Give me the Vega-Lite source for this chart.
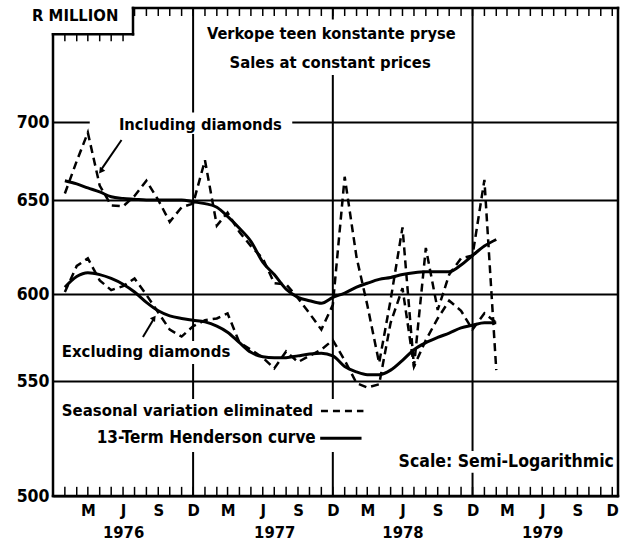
{
  "$schema": "https://vega.github.io/schema/vega-lite/v6.json",
  "width": 565,
  "height": 488,
  "autosize": {"type": "none"},
  "padding": {"left": 53, "top": 8, "right": 6, "bottom": 48},
  "background": "white",
  "config": {
    "font": "DejaVu Sans Condensed",
    "view": {"stroke": null},
    "text": {"font": "DejaVu Sans Condensed", "fontWeight": "bold", "color": "black"}
  },
  "datasets": {
    "series": [
      {"d":"1976-01-01","inc_sa":654,"inc_tr":662,"exc_sa":601,"exc_tr":603.5},
      {"d":"1976-02-01","inc_sa":674.5,"inc_tr":660,"exc_sa":614.5,"exc_tr":609},
      {"d":"1976-03-01","inc_sa":693,"inc_tr":657.5,"exc_sa":618.5,"exc_tr":611},
      {"d":"1976-04-01","inc_sa":659,"inc_tr":655,"exc_sa":607,"exc_tr":610},
      {"d":"1976-05-01","inc_sa":647,"inc_tr":652,"exc_sa":602,"exc_tr":608},
      {"d":"1976-06-01","inc_sa":646.5,"inc_tr":651,"exc_sa":604,"exc_tr":605},
      {"d":"1976-07-01","inc_sa":652.5,"inc_tr":650.5,"exc_sa":608,"exc_tr":601},
      {"d":"1976-08-01","inc_sa":662,"inc_tr":650,"exc_sa":599.5,"exc_tr":595},
      {"d":"1976-09-01","inc_sa":650,"inc_tr":650,"exc_sa":589,"exc_tr":590},
      {"d":"1976-10-01","inc_sa":638,"inc_tr":650,"exc_sa":579,"exc_tr":587},
      {"d":"1976-11-01","inc_sa":646,"inc_tr":650,"exc_sa":575,"exc_tr":585.5},
      {"d":"1976-12-01","inc_sa":648,"inc_tr":649,"exc_sa":581,"exc_tr":584.5},
      {"d":"1977-01-01","inc_sa":675,"inc_tr":648,"exc_sa":584.5,"exc_tr":583.5},
      {"d":"1977-02-01","inc_sa":636,"inc_tr":646,"exc_sa":585.5,"exc_tr":581},
      {"d":"1977-03-01","inc_sa":643,"inc_tr":641,"exc_sa":588.5,"exc_tr":577.5},
      {"d":"1977-04-01","inc_sa":632.5,"inc_tr":634.5,"exc_sa":571.5,"exc_tr":571.5},
      {"d":"1977-05-01","inc_sa":625,"inc_tr":627.5,"exc_sa":567.5,"exc_tr":566},
      {"d":"1977-06-01","inc_sa":618.5,"inc_tr":616.5,"exc_sa":563,"exc_tr":563.5},
      {"d":"1977-07-01","inc_sa":605.5,"inc_tr":610,"exc_sa":557,"exc_tr":563},
      {"d":"1977-08-01","inc_sa":605,"inc_tr":602.5,"exc_sa":566.5,"exc_tr":563},
      {"d":"1977-09-01","inc_sa":597.5,"inc_tr":598,"exc_sa":560.5,"exc_tr":564},
      {"d":"1977-10-01","inc_sa":588.5,"inc_tr":596,"exc_sa":564,"exc_tr":565},
      {"d":"1977-11-01","inc_sa":579,"inc_tr":594.5,"exc_sa":567.5,"exc_tr":565.5},
      {"d":"1977-12-01","inc_sa":593.5,"inc_tr":598,"exc_sa":573,"exc_tr":564},
      {"d":"1978-01-01","inc_sa":664.5,"inc_tr":600.5,"exc_sa":561.5,"exc_tr":558},
      {"d":"1978-02-01","inc_sa":619,"inc_tr":603.5,"exc_sa":549,"exc_tr":555},
      {"d":"1978-03-01","inc_sa":593.5,"inc_tr":605.5,"exc_sa":547,"exc_tr":553.5},
      {"d":"1978-04-01","inc_sa":560,"inc_tr":607.5,"exc_sa":548.5,"exc_tr":553.5},
      {"d":"1978-05-01","inc_sa":596.5,"inc_tr":608.5,"exc_sa":583,"exc_tr":556},
      {"d":"1978-06-01","inc_sa":635,"inc_tr":610,"exc_sa":603,"exc_tr":561.5},
      {"d":"1978-07-01","inc_sa":558,"inc_tr":611,"exc_sa":558,"exc_tr":567.5},
      {"d":"1978-08-01","inc_sa":624,"inc_tr":611.5,"exc_sa":573,"exc_tr":571.5},
      {"d":"1978-09-01","inc_sa":590.5,"inc_tr":611.5,"exc_sa":585.5,"exc_tr":574.5},
      {"d":"1978-10-01","inc_sa":610,"inc_tr":611.5,"exc_sa":596,"exc_tr":577},
      {"d":"1978-11-01","inc_sa":618.5,"inc_tr":615,"exc_sa":590,"exc_tr":580},
      {"d":"1978-12-01","inc_sa":620,"inc_tr":620,"exc_sa":579,"exc_tr":581.5},
      {"d":"1979-01-01","inc_sa":662.5,"inc_tr":625,"exc_sa":588.5,"exc_tr":583},
      {"d":"1979-02-01","inc_sa":556,"inc_tr":628.5,"exc_sa":583,"exc_tr":583}
    ],
    "months": [
      {"m":"1976-01-01"},{"m":"1976-02-01"},{"m":"1976-03-01"},{"m":"1976-04-01"},{"m":"1976-05-01"},{"m":"1976-06-01"},
      {"m":"1976-07-01"},{"m":"1976-08-01"},{"m":"1976-09-01"},{"m":"1976-10-01"},{"m":"1976-11-01"},{"m":"1976-12-01"},
      {"m":"1977-01-01"},{"m":"1977-02-01"},{"m":"1977-03-01"},{"m":"1977-04-01"},{"m":"1977-05-01"},{"m":"1977-06-01"},
      {"m":"1977-07-01"},{"m":"1977-08-01"},{"m":"1977-09-01"},{"m":"1977-10-01"},{"m":"1977-11-01"},{"m":"1977-12-01"},
      {"m":"1978-01-01"},{"m":"1978-02-01"},{"m":"1978-03-01"},{"m":"1978-04-01"},{"m":"1978-05-01"},{"m":"1978-06-01"},
      {"m":"1978-07-01"},{"m":"1978-08-01"},{"m":"1978-09-01"},{"m":"1978-10-01"},{"m":"1978-11-01"},{"m":"1978-12-01"},
      {"m":"1979-01-01"},{"m":"1979-02-01"},{"m":"1979-03-01"},{"m":"1979-04-01"},{"m":"1979-05-01"},{"m":"1979-06-01"},
      {"m":"1979-07-01"},{"m":"1979-08-01"},{"m":"1979-09-01"},{"m":"1979-10-01"},{"m":"1979-11-01"},{"m":"1979-12-01"}
    ]
  },
  "layer": [
    {
      "data": {"name": "months"},
      "transform": [{"filter": "utcmonth(datum.m)==11 && utcyear(datum.m)<1979"}],
      "mark": {"type": "rule", "color": "black", "strokeWidth": 2},
      "encoding": {"x": {"field": "m", "type": "temporal", "title": null}}
    },
    {
      "data": {"values": [{}]},
      "mark": {"type": "rect", "color": "white"},
      "encoding": {
        "x": {"datum": {"year":1976,"month":12,"date":20,"utc":true}, "type": "temporal"},
        "x2": {"datum": {"year":1978,"month":11,"date":4,"utc":true}},
        "y": {"datum": 730, "type": "quantitative"},
        "y2": {"datum": 767}
      }
    },
    {
      "data": {"values": [{}]},
      "mark": {"type": "rect", "color": "white"},
      "encoding": {
        "x": {"datum": {"year":1976,"month":3,"date":6,"utc":true}, "type": "temporal"},
        "x2": {"datum": {"year":1977,"month":8,"date":17,"utc":true}},
        "y": {"datum": 692, "type": "quantitative"},
        "y2": {"datum": 706}
      }
    },
    {
      "data": {"values": [{}]},
      "mark": {"type": "rect", "color": "white"},
      "encoding": {
        "x": {"datum": {"year":1975,"month":12,"date":14,"utc":true}, "type": "temporal"},
        "x2": {"datum": {"year":1977,"month":3,"date":22,"utc":true}},
        "y": {"datum": 559.4, "type": "quantitative"},
        "y2": {"datum": 572.4}
      }
    },
    {
      "data": {"values": [{}]},
      "mark": {"type": "rect", "color": "white"},
      "encoding": {
        "x": {"datum": {"year":1975,"month":12,"date":14,"utc":true}, "type": "temporal"},
        "x2": {"datum": {"year":1978,"month":3,"date":2,"utc":true}},
        "y": {"datum": 518.6, "type": "quantitative"},
        "y2": {"datum": 541.9}
      }
    },
    {
      "data": {"values": [{}]},
      "mark": {"type": "rect", "color": "white"},
      "encoding": {
        "x": {"datum": {"year":1978,"month":5,"date":9,"utc":true}, "type": "temporal"},
        "x2": {"datum": {"year":1979,"month":12,"date":13,"utc":true}},
        "y": {"datum": 509.7, "type": "quantitative"},
        "y2": {"datum": 519}
      }
    },
    {
      "data": {"name": "series"},
      "transform": [{"fold": ["inc_sa", "exc_sa"], "as": ["series", "value"]}],
      "mark": {"type": "line", "color": "black", "strokeWidth": 2.5, "strokeDash": [8, 5]},
      "encoding": {
        "x": {
          "field": "d", "type": "temporal",
          "scale": {"type": "utc", "domain": [{"year":1975,"month":12,"date":1,"utc":true}, {"year":1979,"month":12,"date":16,"utc":true}], "nice": false},
          "axis": {
            "title": null,
            "tickCount": {"interval": "month", "step": 1},
            "ticks": false, "domain": false, "grid": false,
            "labelExpr": "[utcyear(datum.value)<1976?'':(utcmonth(datum.value)==2?'M':utcmonth(datum.value)==5?'J':utcmonth(datum.value)==8?'S':utcmonth(datum.value)==11?'D':''), ((utcmonth(datum.value)==5&&utcyear(datum.value)!=1977)||(utcmonth(datum.value)==6&&utcyear(datum.value)==1977))?''+utcyear(datum.value):'']",
            "labelFont": "DejaVu Sans Condensed", "labelFontWeight": "bold", "labelFontSize": 16.5, "labelColor": "black",
            "labelPadding": 6, "labelLineHeight": 22, "labelOverlap": false, "labelFlush": false, "labelBound": false, "labelAngle": 0
          }
        },
        "y": {
          "field": "value", "type": "quantitative",
          "scale": {"type": "log", "domain": [500, 550, 600, 650, 700, 775], "range": [488, 373, 286, 192, 114, 0], "nice": false},
          "axis": {
            "title": null, "values": [500, 550, 600, 650, 700],
            "ticks": false, "domain": false, "grid": true, "gridColor": "black", "gridWidth": 2, "gridOpacity": 1,
            "labelFont": "DejaVu Sans Condensed", "labelFontWeight": "bold", "labelFontSize": 17.5, "labelColor": "black", "labelPadding": 4, "format": "d"
          }
        },
        "detail": {"field": "series"}
      }
    },
    {
      "data": {"name": "series"},
      "transform": [{"fold": ["inc_tr", "exc_tr"], "as": ["series", "value"]}],
      "mark": {"type": "line", "color": "black", "strokeWidth": 3, "interpolate": "monotone"},
      "encoding": {
        "x": {"field": "d", "type": "temporal", "title": null},
        "y": {"field": "value", "type": "quantitative", "title": null},
        "detail": {"field": "series"}
      }
    },
    {
      "data": {"name": "months"},
      "transform": [{"filter": "utcyear(datum.m)>1976 || utcmonth(datum.m)>=6"}],
      "mark": {"type": "rule", "color": "black", "strokeWidth": 1.5},
      "encoding": {
        "x": {"field": "m", "type": "temporal", "title": null},
        "y": {"datum": 775, "type": "quantitative"},
        "y2": {"datum": 769.5}
      }
    },
    {
      "data": {"name": "months"},
      "transform": [{"filter": "utcyear(datum.m)==1976 && utcmonth(datum.m)<6"}],
      "mark": {"type": "rule", "color": "black", "strokeWidth": 1.5},
      "encoding": {
        "x": {"field": "m", "type": "temporal", "title": null},
        "y": {"datum": 757, "type": "quantitative"},
        "y2": {"datum": 752.3}
      }
    },
    {
      "data": {"name": "months"},
      "mark": {"type": "rule", "color": "black", "strokeWidth": 1.5},
      "encoding": {
        "x": {"field": "m", "type": "temporal", "title": null},
        "y": {"datum": 500, "type": "quantitative"},
        "y2": {"datum": 503.8}
      }
    },
    {
      "data": {"values": [{}]},
      "mark": {"type": "rule", "color": "black", "strokeWidth": 2.5, "strokeCap": "square"},
      "encoding": {
        "x": {"datum": {"year":1975,"month":12,"date":1,"utc":true}, "type": "temporal"},
        "y": {"datum": 500, "type": "quantitative"},
        "y2": {"datum": 757}
      }
    },
    {
      "data": {"values": [{}]},
      "mark": {"type": "rule", "color": "black", "strokeWidth": 2.5, "strokeCap": "square"},
      "encoding": {
        "x": {"datum": {"year":1975,"month":12,"date":1,"utc":true}, "type": "temporal"},
        "x2": {"datum": {"year":1976,"month":6,"date":27,"utc":true}},
        "y": {"datum": 757, "type": "quantitative"}
      }
    },
    {
      "data": {"values": [{}]},
      "mark": {"type": "rule", "color": "black", "strokeWidth": 2.5, "strokeCap": "square"},
      "encoding": {
        "x": {"datum": {"year":1976,"month":6,"date":27,"utc":true}, "type": "temporal"},
        "y": {"datum": 757, "type": "quantitative"},
        "y2": {"datum": 775}
      }
    },
    {
      "data": {"values": [{}]},
      "mark": {"type": "rule", "color": "black", "strokeWidth": 2.5, "strokeCap": "square"},
      "encoding": {
        "x": {"datum": {"year":1976,"month":6,"date":27,"utc":true}, "type": "temporal"},
        "x2": {"datum": {"year":1979,"month":12,"date":16,"utc":true}},
        "y": {"datum": 775, "type": "quantitative"}
      }
    },
    {
      "data": {"values": [{}]},
      "mark": {"type": "rule", "color": "black", "strokeWidth": 2.5, "strokeCap": "square"},
      "encoding": {
        "x": {"datum": {"year":1979,"month":12,"date":16,"utc":true}, "type": "temporal"},
        "y": {"datum": 500, "type": "quantitative"},
        "y2": {"datum": 775}
      }
    },
    {
      "data": {"values": [{}]},
      "mark": {"type": "rule", "color": "black", "strokeWidth": 2.5, "strokeCap": "square"},
      "encoding": {
        "x": {"datum": {"year":1975,"month":12,"date":1,"utc":true}, "type": "temporal"},
        "x2": {"datum": {"year":1979,"month":12,"date":16,"utc":true}},
        "y": {"datum": 500, "type": "quantitative"}
      }
    },
    {
      "data": {"values": [{}]},
      "mark": {"type": "rule", "color": "black", "strokeWidth": 2},
      "encoding": {
        "x": {"datum": {"year":1976,"month":5,"date":28,"utc":true}, "type": "temporal"},
        "x2": {"datum": {"year":1976,"month":4,"date":5,"utc":true}},
        "y": {"datum": 688.1, "type": "quantitative"},
        "y2": {"datum": 669}
      }
    },
    {
      "data": {"values": [{}]},
      "mark": {"type": "point", "shape": "triangle-up", "filled": true, "color": "black", "opacity": 1, "size": 45, "angle": 217},
      "encoding": {
        "x": {"datum": {"year":1976,"month":4,"date":4,"utc":true}, "type": "temporal"},
        "y": {"datum": 668.1, "type": "quantitative"}
      }
    },
    {
      "data": {"values": [{}]},
      "mark": {"type": "rule", "color": "black", "strokeWidth": 2},
      "encoding": {
        "x": {"datum": {"year":1976,"month":7,"date":23,"utc":true}, "type": "temporal"},
        "x2": {"datum": {"year":1976,"month":8,"date":19,"utc":true}},
        "y": {"datum": 574.7, "type": "quantitative"},
        "y2": {"datum": 584.8}
      }
    },
    {
      "data": {"values": [{}]},
      "mark": {"type": "point", "shape": "triangle-up", "filled": true, "color": "black", "opacity": 1, "size": 40, "angle": 36},
      "encoding": {
        "x": {"datum": {"year":1976,"month":8,"date":21,"utc":true}, "type": "temporal"},
        "y": {"datum": 585.8, "type": "quantitative"}
      }
    },
    {
      "data": {"values": [{}]},
      "mark": {"type": "rule", "color": "black", "strokeWidth": 2.5, "strokeDash": [7, 5]},
      "encoding": {
        "x": {"datum": {"year":1977,"month":10,"date":31,"utc":true}, "type": "temporal"},
        "x2": {"datum": {"year":1978,"month":2,"date":19,"utc":true}},
        "y": {"datum": 536.5, "type": "quantitative"}
      }
    },
    {
      "data": {"values": [{}]},
      "mark": {"type": "rule", "color": "black", "strokeWidth": 3},
      "encoding": {
        "x": {"datum": {"year":1977,"month":10,"date":29,"utc":true}, "type": "temporal"},
        "x2": {"datum": {"year":1978,"month":2,"date":14,"utc":true}},
        "y": {"datum": 524.5, "type": "quantitative"}
      }
    },
    {
      "data": {"values": [{}]},
      "mark": {"type": "text", "text": "R MILLION", "fontSize": 16.5, "align": "center", "baseline": "middle"},
      "encoding": {
        "x": {"datum": {"year":1976,"month":1,"date":28,"utc":true}, "type": "temporal"},
        "y": {"datum": 769.4, "type": "quantitative"}
      }
    },
    {
      "data": {"values": [{}]},
      "mark": {"type": "text", "text": "Verkope teen konstante pryse", "fontSize": 16.3, "align": "center", "baseline": "middle"},
      "encoding": {
        "x": {"datum": {"year":1977,"month":11,"date":27,"utc":true}, "type": "temporal"},
        "y": {"datum": 757, "type": "quantitative"}
      }
    },
    {
      "data": {"values": [{}]},
      "mark": {"type": "text", "text": "Sales at constant prices", "fontSize": 16.5, "align": "center", "baseline": "middle"},
      "encoding": {
        "x": {"datum": {"year":1977,"month":11,"date":24,"utc":true}, "type": "temporal"},
        "y": {"datum": 738, "type": "quantitative"}
      }
    },
    {
      "data": {"values": [{}]},
      "mark": {"type": "text", "text": "Including diamonds", "fontSize": 16.4, "align": "center", "baseline": "middle"},
      "encoding": {
        "x": {"datum": {"year":1976,"month":12,"date":20,"utc":true}, "type": "temporal"},
        "y": {"datum": 698, "type": "quantitative"}
      }
    },
    {
      "data": {"values": [{}]},
      "mark": {"type": "text", "text": "Excluding diamonds", "fontSize": 16.6, "align": "center", "baseline": "middle"},
      "encoding": {
        "x": {"datum": {"year":1976,"month":7,"date":31,"utc":true}, "type": "temporal"},
        "y": {"datum": 566, "type": "quantitative"}
      }
    },
    {
      "data": {"values": [{}]},
      "mark": {"type": "text", "text": "Seasonal variation eliminated", "fontSize": 16.6, "align": "left", "baseline": "middle"},
      "encoding": {
        "x": {"datum": {"year":1975,"month":12,"date":24,"utc":true}, "type": "temporal"},
        "y": {"datum": 536.5, "type": "quantitative"}
      }
    },
    {
      "data": {"values": [{}]},
      "mark": {"type": "text", "text": "13-Term Henderson curve", "fontSize": 17, "align": "left", "baseline": "middle"},
      "encoding": {
        "x": {"datum": {"year":1976,"month":3,"date":24,"utc":true}, "type": "temporal"},
        "y": {"datum": 524.5, "type": "quantitative"}
      }
    },
    {
      "data": {"values": [{}]},
      "mark": {"type": "text", "text": "Scale: Semi-Logarithmic", "fontSize": 17.5, "align": "center", "baseline": "middle"},
      "encoding": {
        "x": {"datum": {"year":1979,"month":2,"date":27,"utc":true}, "type": "temporal"},
        "y": {"datum": 514.3, "type": "quantitative"}
      }
    }
  ]
}
